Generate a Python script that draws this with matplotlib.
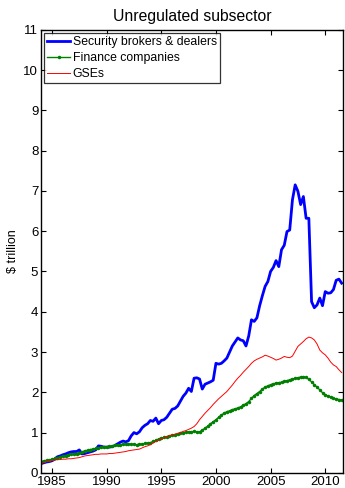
import matplotlib

matplotlib.use("Agg")
import matplotlib.pyplot as plt
import numpy as np

plt.rcParams["font.family"] = ["Liberation Sans", "DejaVu Sans"]

# quarterly observations, 1984Q1 .. 2011Q3 ($ trillion)
quarters = 1984.0 + 0.25 * np.arange(111)

brokers_dealers = [
    0.23, 0.25, 0.27, 0.28, 0.30, 0.34, 0.40, 0.42, 0.45, 0.47, 0.50, 0.52,
    0.53, 0.53, 0.57, 0.47, 0.48, 0.50, 0.52, 0.54, 0.57, 0.67, 0.66, 0.64,
    0.64, 0.64, 0.65, 0.68, 0.72, 0.76, 0.79, 0.77, 0.80, 0.92, 1.00, 0.97,
    1.02, 1.12, 1.18, 1.22, 1.30, 1.28, 1.36, 1.22, 1.30, 1.32, 1.38, 1.48,
    1.58, 1.60, 1.66, 1.78, 1.90, 1.98, 2.10, 2.02, 2.35, 2.36, 2.33, 2.08,
    2.20, 2.23, 2.26, 2.30, 2.72, 2.70, 2.72, 2.78, 2.85, 3.00, 3.15, 3.25,
    3.35, 3.30, 3.28, 3.15, 3.40, 3.80, 3.76, 3.85, 4.15, 4.40, 4.63, 4.75,
    5.00, 5.10, 5.27, 5.12, 5.54, 5.65, 5.99, 6.03, 6.78, 7.15, 6.99, 6.66,
    6.86, 6.32, 6.32, 4.25, 4.10, 4.17, 4.34, 4.15, 4.50, 4.46, 4.47, 4.55,
    4.78, 4.81, 4.71,
]

finance_cos = [
    0.28, 0.30, 0.31, 0.32, 0.34, 0.36, 0.38, 0.40, 0.42, 0.43, 0.45, 0.46,
    0.47, 0.48, 0.50, 0.52, 0.55, 0.56, 0.58, 0.59, 0.61, 0.62, 0.63, 0.64,
    0.65, 0.66, 0.67, 0.68, 0.70, 0.70, 0.71, 0.71, 0.72, 0.71, 0.71, 0.70,
    0.71, 0.72, 0.73, 0.74, 0.75, 0.78, 0.81, 0.84, 0.86, 0.88, 0.90, 0.92,
    0.94, 0.95, 0.97, 0.98, 1.00, 1.01, 1.02, 1.02, 1.03, 1.02, 1.02, 1.06,
    1.11, 1.16, 1.22, 1.27, 1.32, 1.38, 1.44, 1.48, 1.52, 1.54, 1.57, 1.59,
    1.61, 1.64, 1.68, 1.72, 1.77, 1.85, 1.92, 1.97, 2.02, 2.08, 2.13, 2.16,
    2.19, 2.21, 2.23, 2.24, 2.25, 2.27, 2.29, 2.31, 2.33, 2.35, 2.36, 2.38,
    2.39, 2.37, 2.32, 2.26, 2.19, 2.13, 2.06, 1.99, 1.94, 1.91, 1.88, 1.85,
    1.84, 1.82, 1.81,
]

gses = [
    0.24, 0.26, 0.28, 0.30, 0.31, 0.32, 0.33, 0.33, 0.34, 0.34, 0.35, 0.35,
    0.36, 0.37, 0.38, 0.40, 0.42, 0.43, 0.44, 0.45, 0.46, 0.46, 0.47, 0.47,
    0.47, 0.48, 0.48, 0.49, 0.50, 0.51, 0.52, 0.53, 0.55, 0.56, 0.57, 0.58,
    0.59, 0.62, 0.65, 0.67, 0.70, 0.74, 0.78, 0.81, 0.84, 0.87, 0.90, 0.92,
    0.94, 0.96, 0.98, 1.00, 1.03, 1.05, 1.08, 1.11, 1.15, 1.22, 1.32, 1.40,
    1.48, 1.55, 1.62, 1.70, 1.77, 1.84, 1.90, 1.96, 2.02, 2.10, 2.18, 2.27,
    2.35, 2.42, 2.50, 2.57, 2.64, 2.72, 2.78, 2.82, 2.85, 2.88, 2.92, 2.90,
    2.87, 2.84, 2.80, 2.82, 2.85, 2.89, 2.87, 2.86, 2.90, 3.02, 3.14, 3.20,
    3.26, 3.33, 3.37, 3.35, 3.30, 3.20, 3.05, 2.98, 2.93, 2.85, 2.75, 2.68,
    2.64, 2.56, 2.49,
]

x_ticks = [1985, 1990, 1995, 2000, 2005, 2010]
y_ticks = list(range(0, 12))

fig = plt.figure(figsize=(3.45, 4.88), dpi=100)
ax = fig.add_axes([0.119, 0.031, 0.876, 0.908])

ax.plot(quarters, brokers_dealers, color="#0000ff", lw=2.0,
        label="Security brokers & dealers")
ax.plot(quarters, finance_cos, color="#008000", lw=1.0, marker=".",
        markersize=3, label="Finance companies")
ax.plot(quarters, gses, color="#ff0000", lw=0.7, label="GSEs")

ax.set_xlim(1984.0, 2011.65)
ax.set_ylim(0, 11)
ax.set_xticks(x_ticks)
ax.set_yticks(y_ticks)
ax.tick_params(direction="in", length=3.5, width=0.8, labelsize=9.5,
               top=True, right=True, pad=2)
for sp in ax.spines.values():
    sp.set_linewidth(1.0)

ax.set_ylabel(r"\$ trillion", fontsize=9, labelpad=3)
ax.set_title("Unregulated subsector", fontsize=11.3, pad=6)

leg = ax.legend(loc="upper left", fontsize=8.8, frameon=True, fancybox=False,
                edgecolor="black", borderpad=0.25, labelspacing=0.33,
                handlelength=1.9, handletextpad=0.2, borderaxespad=0.25)
leg.get_frame().set_linewidth(0.9)

fig.savefig("out.png", dpi=100)
